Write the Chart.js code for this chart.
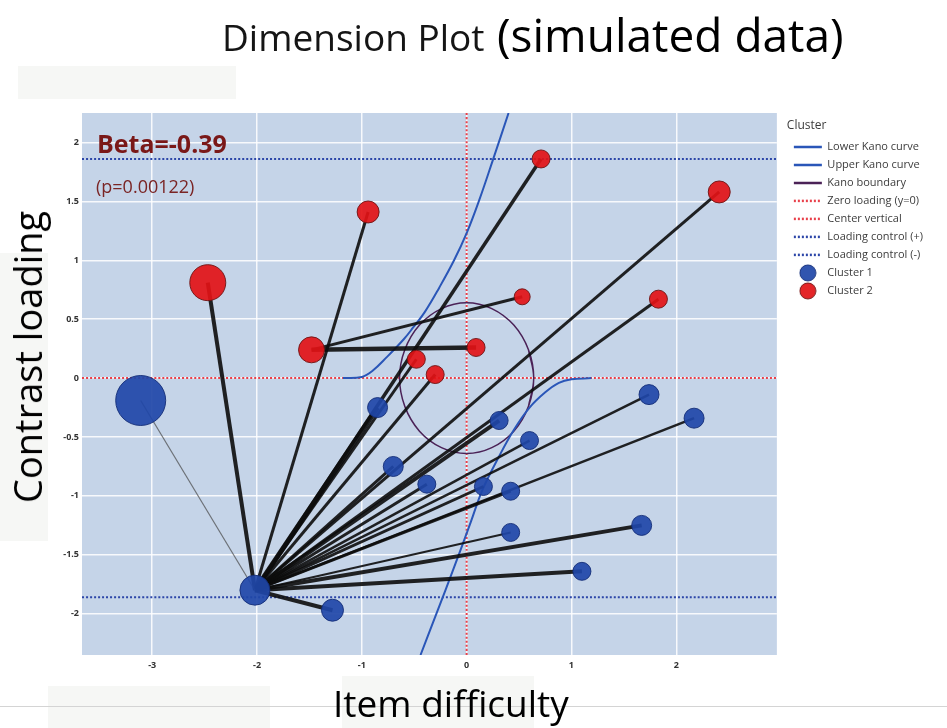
<!DOCTYPE html>
<html>
<head>
<meta charset="utf-8">
<title>Dimension Plot</title>
<script src="https://cdn.jsdelivr.net/npm/chart.js@4.4.1/dist/chart.umd.min.js"></script>
<style>
  body { margin: 0; background: #fff; }
  #wrap { position: relative; width: 947px; height: 728px; overflow: hidden; font-family: 'Open Sans', sans-serif; }
  #myChart { position: absolute; left: 0; top: 0; }
  .patch { position: absolute; background: #f6f7f5; }
  .label { position: absolute; white-space: nowrap; line-height: 1; color: #000; font-weight: 400; }
</style>
</head>
<body>
<div id="wrap">
  <div class="patch" style="left:18px; top:66px; width:218px; height:33px;"></div>
  <div class="patch" style="left:0; top:253px; width:48px; height:288px;"></div>
  <div class="patch" style="left:48px; top:686px; width:222px; height:42px;"></div>
  <div class="patch" style="left:342px; top:676px; width:192px; height:52px;"></div>
  <div style="position:absolute; left:0; top:706px; width:947px; height:1px; background:#d4d4d4;"></div>
  <canvas id="myChart" width="947" height="728"></canvas>
  <div class="label" style="left:222px; top:18px; font-size:37px; color:#151515;">Dimension Plot</div>
  <div class="label" style="left:497px; top:11px; font-size:46px;">(simulated data)</div>
  <div class="label" style="left:333px; top:684px; font-size:37px;">Item difficulty</div>
  <div class="label" style="left:27px; top:357px; font-size:38px; transform: translate(-50%, -50%) rotate(-90deg);">Contrast loading</div>
  <div class="label" style="left:97px; top:131px; font-size:25px; font-weight:700; color:#7a1818;">Beta=-0.39</div>
  <div class="label" style="left:96px; top:177px; font-size:18px; color:#7a2424;">(p=0.00122)</div>
</div>
<script>
// axes
const xTicks = [-3, -2, -1, 0, 1, 2];
const yTicks = [-2, -1.5, -1, -0.5, 0, 0.5, 1, 1.5, 2];
const xLimits = [-3.67, 2.96];
const yLimits = [-2.35, 2.25];
const controlLevel = 1.86;

// cluster 1 (blue) items
const cluster1X = [-3.11, -2.02, -1.28, -0.85, -0.70, -0.38, 0.31, 0.60, 0.16, 0.42, 0.42, 1.10, 1.67, 1.74, 2.17];
const cluster1Y = [-0.19, -1.80, -1.97, -0.25, -0.75, -0.90, -0.36, -0.53, -0.92, -0.96, -1.31, -1.64, -1.25, -0.14, -0.34];
const cluster1Size = [25, 15, 11, 10, 10, 9, 9, 9, 9, 9, 9, 9, 10, 10, 10];

// cluster 2 (red) items
const cluster2X = [-2.47, -0.94, 0.71, 2.41, 0.53, 1.83, -1.48, 0.09, -0.48, -0.30];
const cluster2Y = [0.81, 1.41, 1.86, 1.58, 0.69, 0.67, 0.24, 0.26, 0.16, 0.03];
const cluster2Size = [18, 11, 9, 11, 8, 9, 13, 9, 9, 9];

// links: b = cluster 1 item, r = cluster 2 item
const linkFrom = ['b0', 'b1', 'b1', 'b1', 'b1', 'b1', 'b1', 'b1', 'r6', 'r6',
                  'b1', 'b1', 'b1', 'b1', 'b1', 'b1', 'b1', 'b1', 'b1', 'b1', 'b1', 'b1', 'b1'];
const linkTo = ['b1', 'r0', 'r1', 'r2', 'r3', 'r5', 'r8', 'r9', 'r7', 'r4',
                'b2', 'b3', 'b4', 'b5', 'b6', 'b7', 'b8', 'b9', 'b10', 'b11', 'b12', 'b13', 'b14'];
const linkWeight = [1.2, 4, 3, 3.5, 3, 3, 3, 3, 4.5, 3,
                    4, 5, 3, 3, 4, 2.5, 3, 3, 2, 4, 4, 2.5, 2.5];

// Kano curves and boundary
const lowerKanoX = [1.19, 1.0, 0.88, 0.75, 0.6, 0.45, 0.3, 0.15, 0.04, -0.13, -0.28, -0.44];
const lowerKanoY = [0, -0.01, -0.04, -0.12, -0.25, -0.44, -0.68, -0.95, -1.22, -1.63, -1.98, -2.35];
const upperKanoX = [-1.18, -1.0, -0.9, -0.76, -0.6, -0.51, -0.4, -0.26, -0.12, 0, 0.12, 0.25, 0.40];
const upperKanoY = [0, 0.01, 0.06, 0.18, 0.33, 0.43, 0.56, 0.77, 1.0, 1.23, 1.51, 1.85, 2.25];
const boundaryX = [0.59, 0.64, 0.59, 0.45, 0.24, 0, -0.24, -0.45, -0.59, -0.64, -0.59, -0.45, -0.24, 0, 0.24, 0.45, 0.59, 0.64, 0.59];
const boundaryY = [-0.24, 0, 0.24, 0.45, 0.59, 0.64, 0.59, 0.45, 0.24, 0, -0.24, -0.45, -0.59, -0.64, -0.59, -0.45, -0.24, 0, 0.24];

const kanoBlue = '#2a56b8';
const refRed = '#e8404a';
const refBlue = '#2c46a8';
const blueFill = 'rgba(32,70,168,0.92)';
const blueLine = 'rgba(20,45,120,0.9)';
const redFill = 'rgba(226,18,22,0.92)';
const redLine = 'rgba(110,20,20,0.9)';

const zip = (xs, ys) => xs.map((x, i) => ({ x: x, y: ys[i] }));

function node(id) {
    const i = +id.slice(1);
    return id[0] === 'b' ? { x: cluster1X[i], y: cluster1Y[i] } : { x: cluster2X[i], y: cluster2Y[i] };
}

// round legend marker (the built-in one turns into an ellipse with pointStyleWidth)
function dot(fill, stroke) {
    const c = document.createElement('canvas');
    c.width = 18; c.height = 18;
    const g = c.getContext('2d');
    g.beginPath();
    g.arc(9, 9, 8, 0, Math.PI * 2);
    g.fillStyle = fill;
    g.fill();
    g.lineWidth = 1;
    g.strokeStyle = stroke;
    g.stroke();
    return c;
}

function lineSet(label, data, color, width, dash, order) {
    return {
        label: label, data: data, showLine: true, inLegend: true,
        borderColor: color, backgroundColor: color, borderWidth: width,
        borderDash: dash, pointRadius: 0, tension: 0.4, order: order
    };
}

var datasets = [
    lineSet('Lower Kano curve', zip(lowerKanoX, lowerKanoY), kanoBlue, 2, [], 3),
    lineSet('Upper Kano curve', zip(upperKanoX, upperKanoY), kanoBlue, 2, [], 3),
    lineSet('Kano boundary', zip(boundaryX, boundaryY), '#4b2257', 1.5, [], 3),
    lineSet('Zero loading (y=0)', [{ x: xLimits[0], y: 0 }, { x: xLimits[1], y: 0 }], refRed, 2, [2, 2], 4),
    lineSet('Center vertical', [{ x: 0, y: yLimits[0] }, { x: 0, y: yLimits[1] }], refRed, 2, [2, 2], 4),
    lineSet('Loading control (+)', [{ x: xLimits[0], y: controlLevel }, { x: xLimits[1], y: controlLevel }], refBlue, 2, [2, 2], 4),
    lineSet('Loading control (-)', [{ x: xLimits[0], y: -controlLevel }, { x: xLimits[1], y: -controlLevel }], refBlue, 2, [2, 2], 4),
    {
        label: 'Cluster 1', data: zip(cluster1X, cluster1Y), inLegend: true, legendDot: dot(blueFill, blueLine),
        pointRadius: cluster1Size, backgroundColor: blueFill,
        borderColor: blueLine, borderWidth: 1, order: 0
    },
    {
        label: 'Cluster 2', data: zip(cluster2X, cluster2Y), inLegend: true, legendDot: dot(redFill, redLine),
        pointRadius: cluster2Size, backgroundColor: redFill,
        borderColor: redLine, borderWidth: 1, order: 0
    }
];

linkFrom.forEach(function (from, i) {
    datasets.push({
        label: 'link' + i, data: [node(from), node(linkTo[i])], showLine: true,
        borderColor: linkWeight[i] < 2 ? 'rgba(70,70,70,0.7)' : 'rgba(12,12,12,0.9)',
        borderWidth: linkWeight[i], pointRadius: 0, order: 1
    });
});

const plotBackground = {
    id: 'plotBackground',
    beforeDraw(chart) {
        const { ctx, chartArea } = chart;
        ctx.save();
        ctx.fillStyle = '#c5d4e8';
        ctx.fillRect(chartArea.left, chartArea.top, chartArea.width, chartArea.height);
        ctx.restore();
    }
};

const tickFont = { family: 'Open Sans', size: 9, weight: '700' };
const gridStyle = { color: 'rgba(255,255,255,0.85)', lineWidth: 1.5, drawTicks: false };

new Chart(document.getElementById('myChart'), {
    type: 'scatter',
    data: { datasets: datasets },
    options: {
        responsive: false,
        animation: false,
        events: [],
        layout: { padding: { top: 113, right: 14, bottom: 0, left: 0 } },
        scales: {
            x: {
                type: 'linear', min: xLimits[0], max: xLimits[1],
                afterBuildTicks: s => { s.ticks = xTicks.map(v => ({ value: v })); },
                afterFit: s => { s.height = 73; },
                grid: gridStyle, border: { display: false },
                ticks: { padding: 5, color: '#333', font: tickFont, callback: v => String(v) }
            },
            y: {
                type: 'linear', min: yLimits[0], max: yLimits[1],
                afterBuildTicks: s => { s.ticks = yTicks.map(v => ({ value: v })); },
                afterFit: s => { s.width = 82; },
                grid: gridStyle, border: { display: false },
                ticks: { padding: 3, color: '#333', font: tickFont, callback: v => String(v) }
            },
            gap: {
                type: 'linear', axis: 'y', position: 'right', display: true,
                grid: { display: false }, border: { display: false }, ticks: { display: false },
                afterFit: s => { s.width = 10; }
            }
        },
        plugins: {
            tooltip: { enabled: false },
            legend: {
                position: 'right',
                align: 'start',
                title: {
                    display: true, text: 'Cluster', position: 'start', color: '#3c3c3c',
                    font: { family: 'Open Sans', size: 12 }, padding: { top: 7, bottom: 0 }
                },
                labels: {
                    usePointStyle: true,
                    pointStyleWidth: 28,
                    padding: 7,
                    color: '#3c3c3c',
                    font: { family: 'Open Sans', size: 11 },
                    generateLabels: function (chart) {
                        return chart.data.datasets
                            .map((ds, i) => ({ ds: ds, i: i }))
                            .filter(o => o.ds.inLegend)
                            .map(o => ({
                                text: o.ds.label,
                                fillStyle: o.ds.backgroundColor,
                                strokeStyle: o.ds.borderColor,
                                lineWidth: o.ds.showLine ? 2.5 : 1,
                                lineDash: o.ds.borderDash || [],
                                pointStyle: o.ds.showLine ? 'line' : o.ds.legendDot,
                                hidden: false,
                                datasetIndex: o.i,
                                fontColor: '#3c3c3c'
                            }));
                    }
                }
            }
        }
    },
    plugins: [plotBackground]
});
</script>
</body>
</html>
